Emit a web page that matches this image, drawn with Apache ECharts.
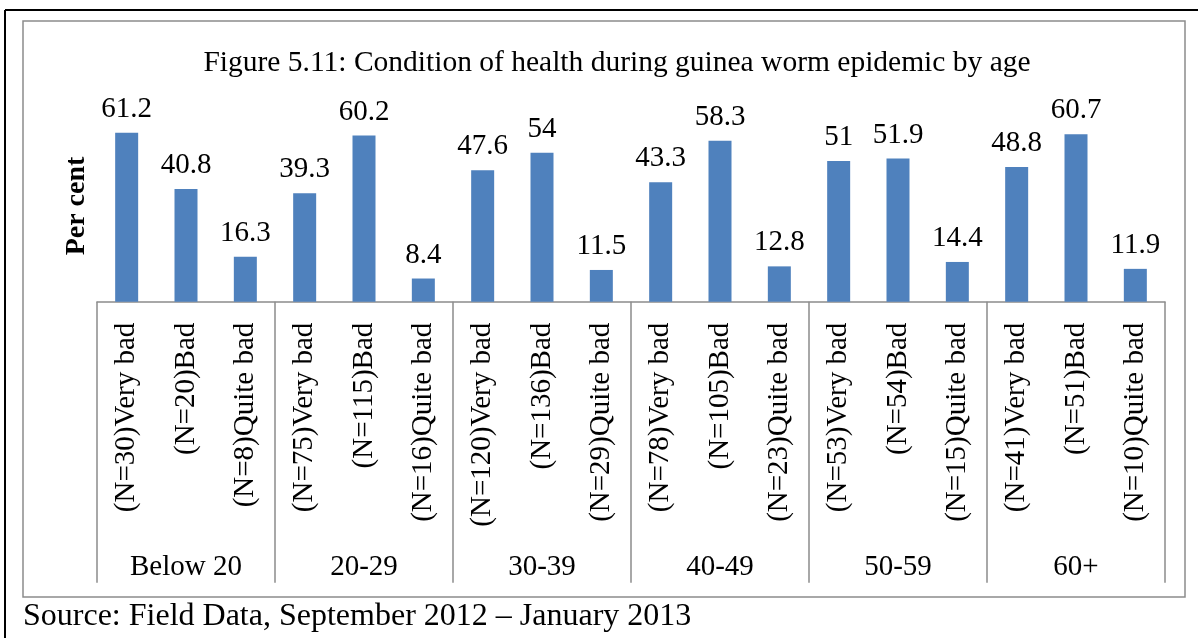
<!DOCTYPE html>
<html>
<head>
<meta charset="utf-8">
<script src="https://cdn.jsdelivr.net/npm/echarts@6/dist/echarts.min.js"></script>
<style>
  html, body { margin: 0; padding: 0; background: #fff; }
  #chart { width: 1198px; height: 638px; }
</style>
</head>
<body>
<div id="chart"></div>
<script>
// Age groups and health-condition categories (with respondent counts)
const ageGroups = ['Below 20', '20-29', '30-39', '40-49', '50-59', '60+'];
const conditions = [
  '(N=30)Very bad', '(N=20)Bad', '(N=8)Quite bad',
  '(N=75)Very bad', '(N=115)Bad', '(N=16)Quite bad',
  '(N=120)Very bad', '(N=136)Bad', '(N=29)Quite bad',
  '(N=78)Very bad', '(N=105)Bad', '(N=23)Quite bad',
  '(N=53)Very bad', '(N=54)Bad', '(N=15)Quite bad',
  '(N=41)Very bad', '(N=51)Bad', '(N=10)Quite bad'
];
// Per cent of respondents in each category
const percents = [
  61.2, 40.8, 16.3,
  39.3, 60.2, 8.4,
  47.6, 54, 11.5,
  43.3, 58.3, 12.8,
  51, 51.9, 14.4,
  48.8, 60.7, 11.9
];

const titleText = 'Figure 5.11: Condition of health during guinea worm epidemic by age';
const sourceText = 'Source: Field Data, September 2012 \u2013 January 2013';

const serif = '"Liberation Serif", "Times New Roman", serif';
const chart = echarts.init(document.getElementById('chart'), null, { renderer: 'canvas' });

chart.setOption({
  animation: false,
  backgroundColor: '#ffffff',
  textStyle: { fontFamily: serif },
  title: {
    text: titleText,
    left: 612,
    top: 43,
    textAlign: 'center',
    textStyle: { fontFamily: serif, fontSize: 29.5, fontWeight: 'normal', color: '#000' }
  },
  grid: { left: 97, right: 33, top: 108.5, bottom: 336.3, containLabel: false },
  xAxis: [
    {
      type: 'category',
      data: conditions,
      position: 'bottom',
      axisLine: { show: true, lineStyle: { color: '#8c8c8c', width: 1.5 } },
      axisTick: { show: false },
      axisLabel: {
        interval: 0,
        rotate: 90,
        margin: 21,
        fontFamily: serif,
        fontSize: 29,
        color: '#000'
      }
    },
    {
      type: 'category',
      data: ageGroups,
      position: 'bottom',
      axisLine: { show: false },
      axisTick: {
        show: true,
        interval: 0,
        length: 281,
        inside: false,
        lineStyle: { color: '#8c8c8c', width: 1.5 }
      },
      axisLabel: {
        interval: 0,
        margin: 251,
        fontFamily: serif,
        fontSize: 29,
        color: '#000'
      }
    }
  ],
  yAxis: {
    type: 'value',
    min: 0,
    max: 70,
    show: false,
    name: 'Per cent'
  },
  series: [
    {
      type: 'bar',
      xAxisIndex: 0,
      data: percents,
      barWidth: 23,
      itemStyle: { color: '#4F81BD' },
      label: {
        show: true,
        position: 'top',
        distance: 9,
        fontFamily: serif,
        fontSize: 29,
        color: '#000'
      }
    }
  ],
  graphic: [
    // outer page rule lines
    { type: 'line', shape: { x1: 5, y1: 10, x2: 1198, y2: 10 }, style: { stroke: '#000', lineWidth: 2 } },
    { type: 'line', shape: { x1: 5, y1: 10, x2: 5, y2: 638 }, style: { stroke: '#000', lineWidth: 2 } },
    // chart frame
    { type: 'rect', shape: { x: 23, y: 21, width: 1162, height: 576 }, style: { fill: 'none', stroke: '#8c8c8c', lineWidth: 1.5 } },
    // y axis title
    {
      type: 'text',
      x: 77, y: 206,
      rotation: Math.PI / 2,
      style: {
        text: 'Per cent',
        font: 'bold 28px ' + serif,
        fill: '#000',
        align: 'center',
        verticalAlign: 'middle'
      }
    },
    // source note
    {
      type: 'text',
      x: 23, y: 617,
      style: {
        text: sourceText,
        font: '32px ' + serif,
        fill: '#000',
        align: 'left',
        verticalAlign: 'middle'
      }
    }
  ]
});
</script>
</body>
</html>
